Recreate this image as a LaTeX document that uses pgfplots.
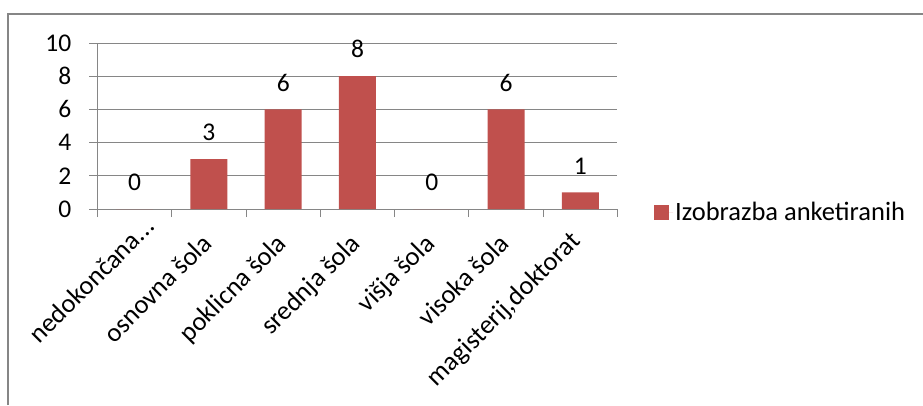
\documentclass[border=0pt]{standalone}
\usepackage{fontspec}
\setmainfont{Carlito}
\usepackage{pgfplots}
\pgfplotsset{compat=1.18}
\definecolor{barred}{HTML}{C0504D}
\definecolor{gridgray}{HTML}{868686}
\begin{document}
\begin{tikzpicture}[x=1pt,y=1pt]
% page extent and chart-area frame (top and left edges)
\path[use as bounding box] (-97.5,-196) rectangle (825.5,209);
\draw[gridgray, line width=1.2pt] (-89.5,-196) -- (-89.5,195) -- (825.5,195);
\begin{axis}[
  at={(0,0)}, anchor=south west,
  scale only axis, width=520pt, height=166pt,
  xmin=-0.5, xmax=6.5, ymin=0, ymax=10,
  axis x line*=bottom, axis y line*=left,
  axis line style={gridgray, line width=1pt, -},
  ytick={0,2,...,10},
  ymajorgrids, grid style={gridgray, line width=1pt},
  xtick={0,...,6},
  xticklabels={{nedokončana.\kern0pt.\kern0pt.\kern-24pt}, {osnovna šola}, {poklicna šola}, {srednja šola}, {višja šola}, {visoka šola}, {\raisebox{4pt}{magisterij,doktorat}}},
  minor xtick={-0.5,0.5,...,6.5},
  major x tick style={draw=none},
  minor x tick style={gridgray, line width=1pt},
  y tick style={gridgray, line width=1pt},
  tick align=outside,
  major tick length=8pt, minor tick length=8pt,
  /pgf/number format/assume math mode=true,
  yticklabel style={font=\fontsize{25.5}{30}\selectfont, inner sep=0pt, xshift=-18pt},
  % shifts act in the rotated frame of the label
  xticklabel style={font=\fontsize{26.5}{31}\selectfont, rotate=45, anchor=base east, inner sep=0pt, xshift=-16.6pt, yshift=-23pt},
  ybar, bar width=37pt,
  nodes near coords,
  nodes near coords style={font=\fontsize{25.5}{30}\selectfont, anchor=south, inner sep=0pt, yshift=18pt, black},
  legend style={at={(1,0)}, anchor=west, xshift=36.5pt, yshift=-3.5pt, draw=none, fill=none,
    font=\fontsize{26.5}{31}\selectfont, inner sep=0pt,
    legend cell align=left},
  legend image code/.code={\fill[barred] (0pt,-7pt) rectangle (15pt,8pt); \path (0pt,0pt) -- (19pt,0pt);},
]
\addplot[fill=barred, draw=none] coordinates {(0,0) (1,3) (2,6) (3,8) (4,0) (5,6) (6,1)};
\addlegendentry{Izobrazba anketiranih}
\end{axis}
\end{tikzpicture}
\end{document}
